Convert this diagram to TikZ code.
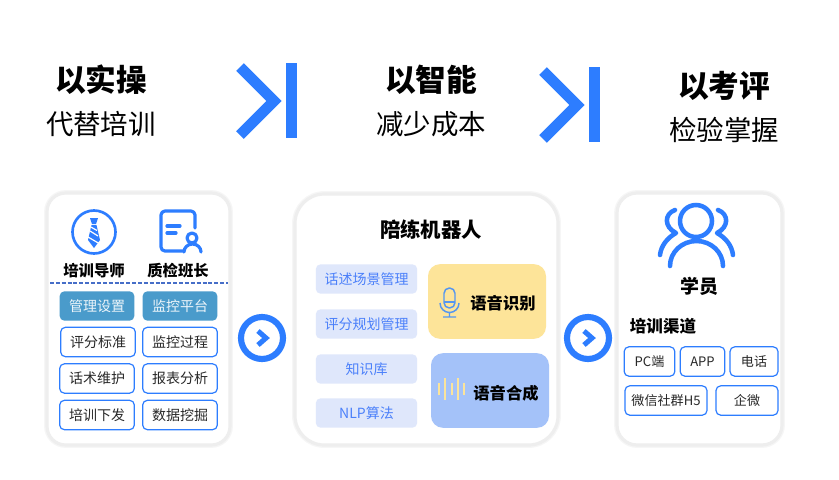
\documentclass[tikz,border=0pt]{standalone}
\usepackage{fontspec}
\setmainfont{Noto Sans CJK SC}
\usetikzlibrary{positioning}
\definecolor{planBlue}{RGB}{45,125,255}
\definecolor{tabBlue}{RGB}{74,155,203}
\definecolor{paleBlue}{RGB}{223,231,251}
\definecolor{softBlue}{RGB}{75,128,250}
\definecolor{sandYellow}{RGB}{253,228,153}
\definecolor{skyBlue}{RGB}{164,194,249}
\definecolor{barYellow}{RGB}{251,228,155}
\definecolor{micBlue}{RGB}{85,150,240}
\definecolor{rimGray}{RGB}{238,238,238}
\definecolor{chipText}{RGB}{40,40,40}
\definecolor{dashBlue}{RGB}{70,110,200}
\tikzset{
    card/.style={preaction={draw=rimGray!55, line width=4.4pt}, draw=rimGray, fill=white, line width=2.4pt},
    headbold/.style={font=\bfseries\fontsize{23}{25}\selectfont, inner sep=0pt},
    headthin/.style={font=\fontsize{20.6}{24}\selectfont, inner sep=0pt},
    rolename/.style={font=\bfseries\fontsize{11.5}{13}\selectfont, inner sep=0pt},
    chip/.style={rounded corners=3.5pt, inner sep=0pt, minimum height=22pt, font=\fontsize{10.5}{12}\selectfont},
    chipline/.style={chip, draw=planBlue, line width=0.9pt, fill=white, text=chipText},
    chiptab/.style={chip, fill=tabBlue, text=white!90!tabBlue},
    chipsoft/.style={chip, fill=paleBlue, text=softBlue, minimum width=76pt},
    chipsmall/.style={chipline, font=\fontsize{9.8}{12}\selectfont},
    iconline/.style={draw=planBlue, line width=2.4pt, line cap=round, line join=round},
    bigarrow/.style={draw=planBlue, line width=8pt},
}
\begin{document}
\begin{tikzpicture}[x=0.75pt, y=-0.75pt]
    \useasboundingbox (0,0) rectangle (839,479);

    % headings
    \node[headbold] (headA) at (101,80) {以实操};
    \node[headthin] (subA) at (101,124) {代替培训};
    \node[headbold] (headB) at (431,80) {以智能};
    \node[headthin] (subB) at (431,124) {减少成本};
    \node[headbold] (headC) at (724,86) {以考评};
    \node[headthin] (subC) at (724,130) {检验掌握};

    % big chevrons
    \draw[bigarrow] (240,67) -- (274,101) -- (240,135);
    \fill[planBlue] (286,63) rectangle (297,138);
    \draw[bigarrow] (543,71) -- (577,105) -- (543,139);
    \fill[planBlue] (589,67) rectangle (600,142);

    % cards
    \draw[card, rounded corners=14pt] (47,193) rectangle (230,445);
    \draw[card, rounded corners=22pt] (295,194) rectangle (558,445);
    \draw[card, rounded corners=15pt] (617,193) rectangle (782,445);

    % tie icon
    \draw[planBlue, line width=2pt] (94,232) circle (21.5);
    \fill[planBlue] (90,218) -- (98,218) -- (96,224) -- (92,224) -- cycle;
    \fill[planBlue] (91.5,225) -- (96.5,225) -- (100,240) -- (94,248) -- (88,240) -- cycle;
    \draw[white, line width=0.9pt] (90,231) -- (98,236) (88,237) -- (100,244) (90,226.5) -- (97,230.5);

    % checker icon
    \draw[iconline] (183,251) -- (165,251) arc (90:180:4) -- (161,215) arc (180:270:4)
        -- (191,211) arc (270:360:4) -- (195,228);
    \draw[iconline] (167,226) -- (180,226) (167,233) -- (176,233);
    \draw[iconline] (192,238) circle (5);
    \draw[iconline] (184,252) arc (180:360:8.5 and 8);

    % roles
    \node[rolename] (roleA) at (94,271) {培训导师};
    \node[rolename] (roleB) at (178,271) {质检班长};
    \draw[dashBlue, line width=1.2pt, dash pattern=on 3pt off 1.4pt] (50,283) -- (228,283);

    % left buttons
    \node[chiptab, minimum width=56pt] (tabA) at (97,306) {管理设置};
    \node[chiptab, minimum width=56pt] (tabB) at (180,306) {监控平台};
    \node[chipline, minimum width=56pt] (lineA) at (98,342) {评分标准};
    \node[chipline, minimum width=56pt] (lineB) at (180,342) {监控过程};
    \node[chipline, minimum width=56pt] (lineC) at (97,378.5) {话术维护};
    \node[chipline, minimum width=56pt] (lineD) at (180,378.5) {报表分析};
    \node[chipline, minimum width=56pt] (lineE) at (97,415) {培训下发};
    \node[chipline, minimum width=56pt] (lineF) at (180,415) {数据挖掘};

    % ring arrows
    \draw[planBlue, line width=4.6pt] (262,338) circle (21);
    \draw[planBlue, line width=3.8pt] (258,331) -- (266,338) -- (258,345);
    \draw[planBlue, line width=4.6pt] (588,338) circle (21);
    \draw[planBlue, line width=3.8pt] (584,331) -- (592,338) -- (584,345);

    % robot card
    \node[font=\bfseries\fontsize{15.3}{17}\selectfont, inner sep=0pt] (robot) at (431,230) {陪练机器人};
    \node[chipsoft] (softA) at (366.5,279) {话述场景管理};
    \node[chipsoft] (softB) at (366.5,324) {评分规划管理};
    \node[chipsoft] (softC) at (366.5,369) {知识库};
    \node[chipsoft] (softD) at (366.5,413) {NLP算法};
    \node[fill=sandYellow, rounded corners=9pt, minimum width=88.5pt, minimum height=56pt, inner sep=0pt] (asr) at (487,301.5) {};
    \node[fill=skyBlue, rounded corners=9pt, minimum width=88.5pt, minimum height=56pt, inner sep=0pt] (tts) at (490,390.5) {};
    \node[font=\bfseries\fontsize{12.2}{14}\selectfont, inner sep=0pt] (asrText) at (503,303) {语音识别};
    \node[font=\bfseries\fontsize{12.2}{14}\selectfont, inner sep=0pt] (ttsText) at (506,393) {语音合成};

    % mic and wave
    \draw[micBlue, line width=1.1pt, rounded corners=4pt] (444,288) rectangle (455,308);
    \draw[micBlue, line width=1.1pt] (444,302) -- (455,302);
    \draw[micBlue, line width=1.1pt] (440,303) arc (180:0:9.5) (449.5,312.5) -- (449.5,317) (443,317) -- (456,317);
    \foreach \bx/\by in {439/6, 445/11, 452/6, 458/11, 464/6}
        \draw[barYellow, line width=1.3pt] (\bx,389-\by) -- (\bx,389+\by);

    % student icon
    \draw[iconline, line width=3.4pt] (696,221) circle (16);
    \draw[iconline, line width=3.4pt] (670,266) arc (180:360:26.5 and 25);
    \draw[iconline, line width=3.4pt] (675,210) .. controls (664,214) and (664,227) .. (676,233) .. controls (667,238) and (661,246) .. (660,255);
    \draw[iconline, line width=3.4pt] (718,210) .. controls (729,214) and (729,227) .. (717,233) .. controls (726,238) and (732,246) .. (733,255);

    \node[font=\bfseries\fontsize{14.2}{16}\selectfont, inner sep=0pt] (student) at (699,286) {学员};
    \node[font=\bfseries\fontsize{12.4}{14}\selectfont, inner sep=0pt] (route) at (663,326) {培训渠道};
    \node[chipsmall, minimum width=38pt] (pc) at (649.5,361.5) {PC端};
    \node[chipsmall, minimum width=33.5pt] (app) at (702.5,361.5) {APP};
    \node[chipsmall, minimum width=36pt] (phone) at (754,361.5) {电话};
    \node[chipsmall, minimum width=61.5pt] (wechat) at (666,400.5) {微信社群H5};
    \node[chipsmall, minimum width=46.5pt] (wework) at (747,400.5) {企微};
\end{tikzpicture}
\end{document}
